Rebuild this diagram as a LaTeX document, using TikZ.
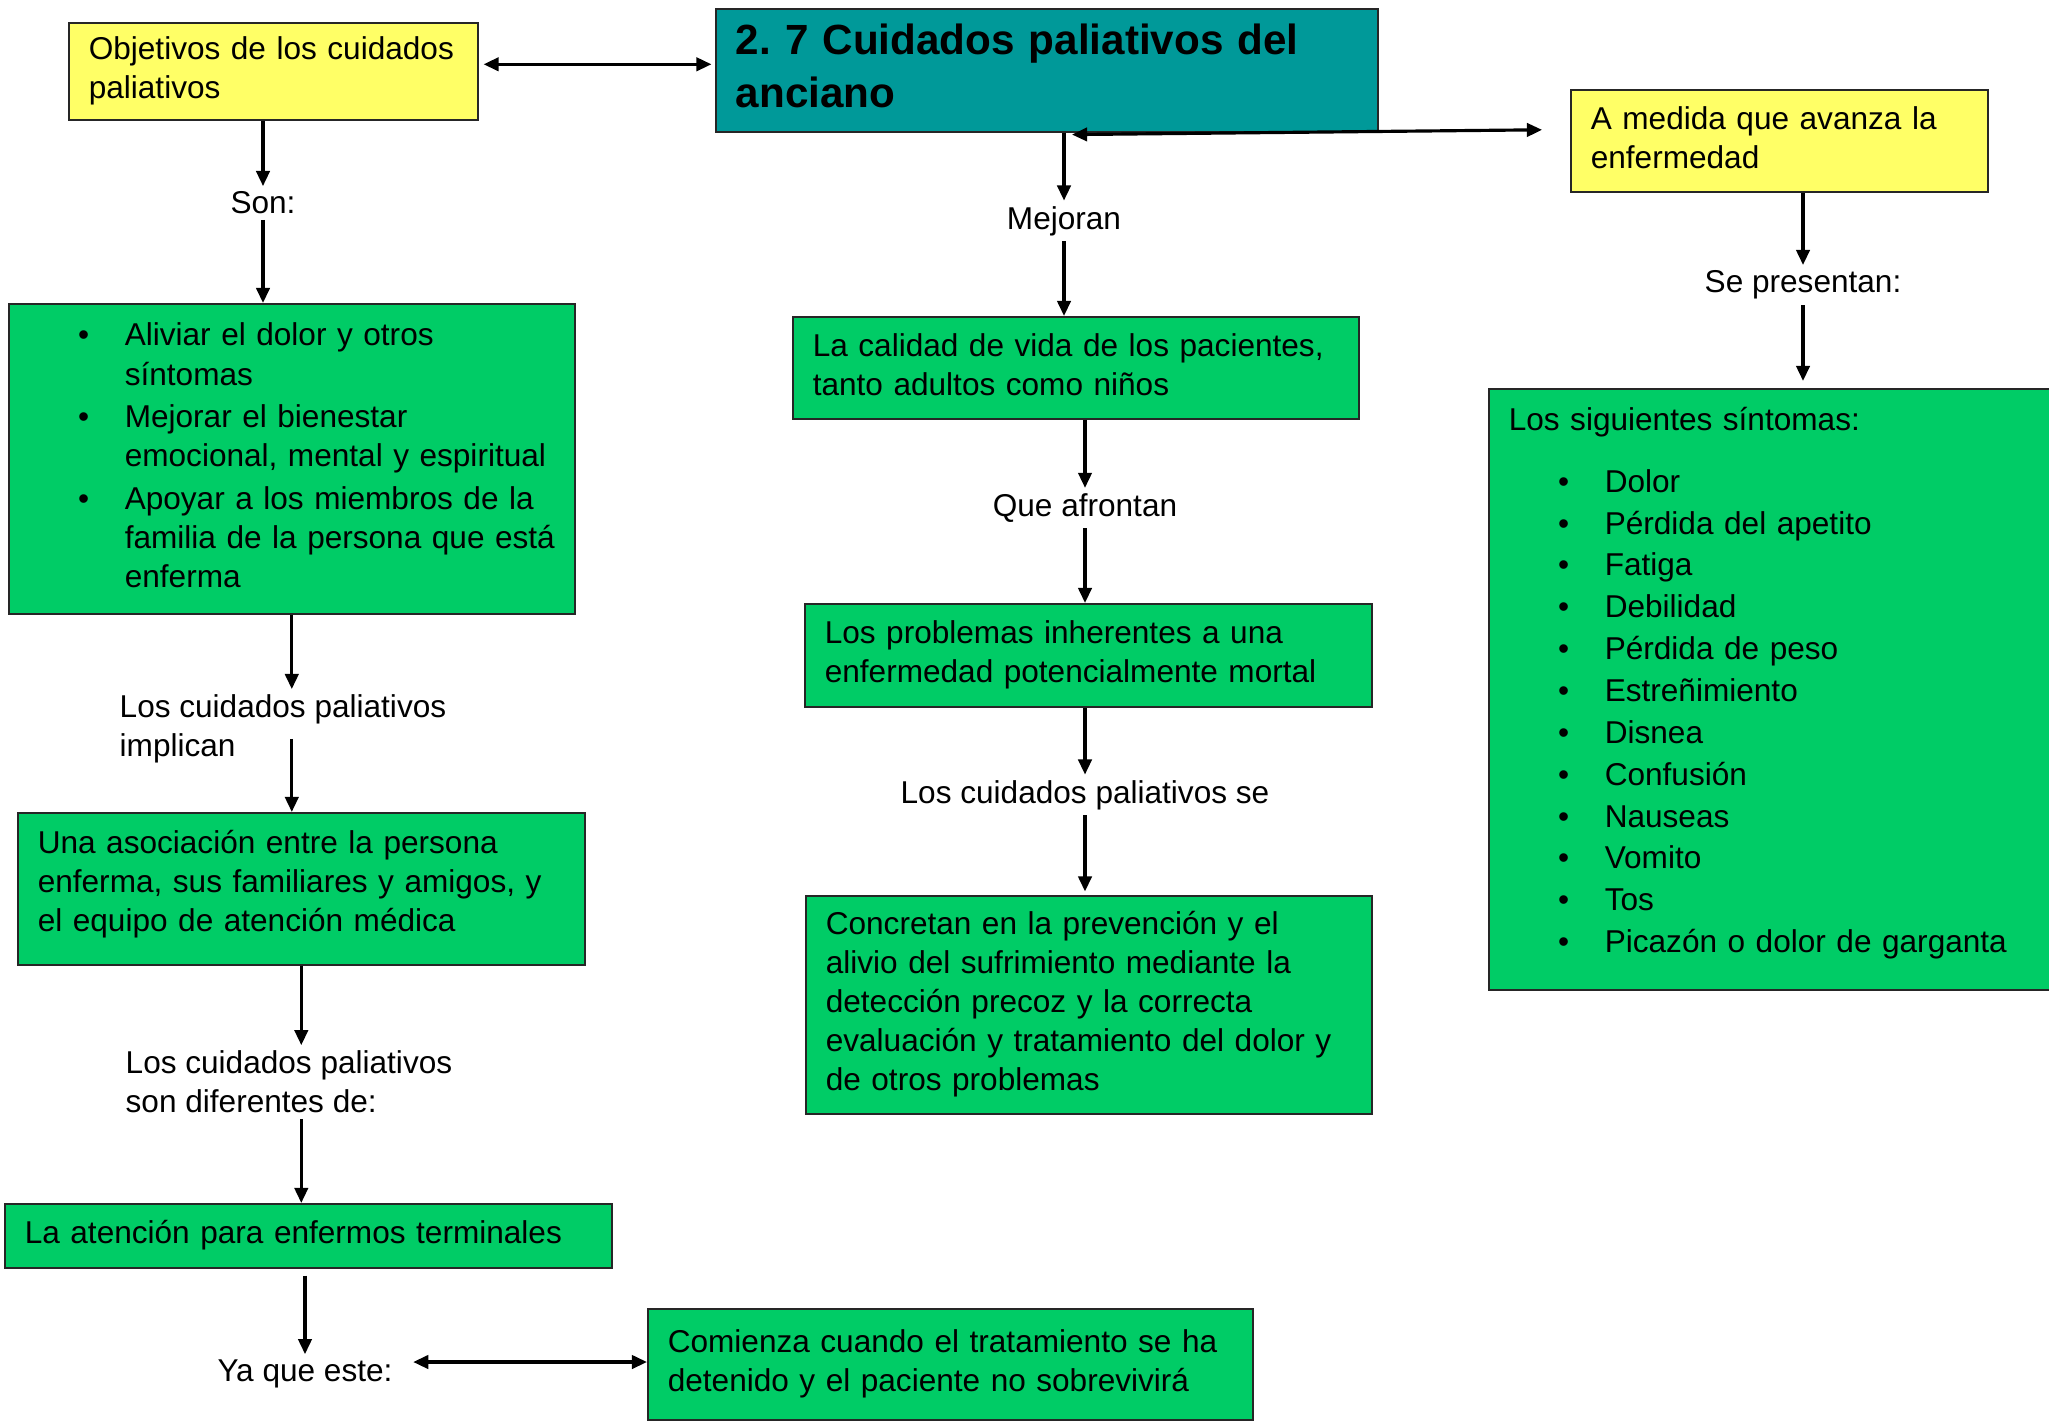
\documentclass[tikz,border=0pt]{standalone}
\usepackage{fontspec}
\setmainfont{Liberation Sans}
\usetikzlibrary{arrows.meta,calc}
\newlength\px \setlength\px{0.01cm}
\definecolor{ylw}{HTML}{FFFF66}
\definecolor{tealbox}{HTML}{009999}
\definecolor{grn}{HTML}{00CC66}
\newcommand\bl{\makebox[27.3pt][l]{\hspace*{14pt}\textbullet}}
\newcommand\bn{\makebox[27.3pt]{}}
\newcommand\mytopgap[1]{\rule{0pt}{\dimexpr 0.7\baselineskip+#1\relax}}
\begin{document}
\begin{tikzpicture}[x=0.01cm,y=-0.01cm,
  box/.style={draw=black!85, line width=0.45pt, rectangle, anchor=north west,
    inner xsep=20\px, inner ysep=2\px, align=left,
    font=\fontsize{8.98pt}{11.1pt}\selectfont},
  ybox/.style={box, fill=ylw},
  gbox/.style={box, fill=grn},
  tbox/.style={box, fill=tealbox, font=\fontsize{12pt}{15.2pt}\selectfont\bfseries},
  lbl/.style={inner xsep=4\px, inner ysep=5\px, align=left,
    font=\fontsize{8.98pt}{11.1pt}\selectfont},
  arr/.style={-{Triangle[length=4.3pt,width=3.8pt]}, line width=0.9pt},
  darr/.style={{Triangle[length=4.3pt,width=3.8pt]}-{Triangle[length=4.3pt,width=3.8pt]}, line width=0.9pt},
]
\useasboundingbox (0,0) rectangle (2049,1421);
\clip (0,0) rectangle (2049,1421);

% boxes
\node[ybox, minimum width=409\px, minimum height=97\px, text width=369\px] (obj) at (68,22)
  {\begin{tabular}{@{}l@{}}\mytopgap{2.4pt}Objetivos de los cuidados\\ paliativos\end{tabular}};
\node[tbox, minimum width=662\px, minimum height=123\px, text width=622\px] (title) at (715,8)
  {\begin{tabular}{@{}l@{}}\mytopgap{2pt}2.\ 7 Cuidados paliativos del\\ anciano\end{tabular}};
\node[ybox, minimum width=417\px, minimum height=102\px, text width=377\px] (amedida) at (1570,89)
  {\begin{tabular}{@{}l@{}}A medida que avanza la\\ enfermedad\end{tabular}};
\node[gbox, minimum width=566\px, minimum height=310\px, text width=526\px] (aliv) at (8,303)
  {\begin{tabular}{@{}l@{}l@{}}
   \bl & Aliviar el dolor y otros\\
   \bn & síntomas\\[1pt]
   \bl & Mejorar el bienestar\\
   \bn & emocional, mental y espiritual\\[1pt]
   \bl & Apoyar a los miembros de la\\
   \bn & familia de la persona que está\\
   \bn & enferma
   \end{tabular}};
\node[gbox, minimum width=567\px, minimum height=152\px, text width=527\px] (asoc) at (17,812)
  {\begin{tabular}{@{}l@{}}Una asociación entre la persona\\ enferma, sus familiares y amigos, y\\ el equipo de atención médica\\[2.2pt]\end{tabular}};
\node[gbox, minimum width=607\px, minimum height=64\px, text width=567\px] (aten) at (4,1203)
  {\begin{tabular}{@{}l@{}}La atención para enfermos terminales\end{tabular}};
\node[gbox, minimum width=605\px, minimum height=111\px, text width=565\px] (comienza) at (647,1308)
  {\begin{tabular}{@{}l@{}}Comienza cuando el tratamiento se ha\\ detenido y el paciente no sobrevivirá\end{tabular}};
\node[gbox, minimum width=566\px, minimum height=102\px, text width=526\px] (calidad) at (792,316)
  {\begin{tabular}{@{}l@{}}La calidad de vida de los pacientes,\\ tanto adultos como niños\end{tabular}};
\node[gbox, minimum width=567\px, minimum height=103\px, text width=527\px] (problemas) at (804,603)
  {\begin{tabular}{@{}l@{}}Los problemas inherentes a una\\ enfermedad potencialmente mortal\end{tabular}};
\node[gbox, minimum width=566\px, minimum height=218\px, text width=526\px] (concretan) at (805,895)
  {\begin{tabular}{@{}l@{}}\mytopgap{1.5pt}Concretan en la prevención y el\\ alivio del sufrimiento mediante la\\ detección precoz y la correcta\\ evaluación y tratamiento del dolor y\\ de otros problemas\end{tabular}};
\node[gbox, minimum width=620\px, minimum height=601\px, text width=580\px] (sintomas) at (1488,388)
  {\begin{tabular}{@{}l@{}l@{}}
   \multicolumn{2}{@{}l@{}}{Los siguientes síntomas:}\\[6.5pt]
   \bl & Dolor\\[0.8pt]
   \bl & Pérdida del apetito\\[0.8pt]
   \bl & Fatiga\\[0.8pt]
   \bl & Debilidad\\[0.8pt]
   \bl & Pérdida de peso\\[0.8pt]
   \bl & Estreñimiento\\[0.8pt]
   \bl & Disnea\\[0.8pt]
   \bl & Confusión\\[0.8pt]
   \bl & Nauseas\\[0.8pt]
   \bl & Vomito\\[0.8pt]
   \bl & Tos\\[0.8pt]
   \bl & Picazón o dolor de garganta\\[3.2pt]
   \end{tabular}};

% labels
\node[lbl] (son) at (263,203) {Son:};
\node[lbl] (mejoran) at (1064,221) {Mejoran};
\node[lbl] (afrontan) at (1085,508) {Que afrontan};
\node[lbl] (lcpse) at (1085,795) {Los cuidados paliativos se};
\node[lbl] (sepres) at (1803,285) {Se presentan:};
\node[lbl, anchor=west] (implican) at (115,729) {Los cuidados paliativos\\implican};
\node[lbl, anchor=west] (dif) at (121,1082) {Los cuidados paliativos\\son diferentes de:};
\node[lbl] (yaque) at (305,1374) {Ya que este:};

% connectors, left column
\coordinate (o1) at ($(obj.east)+(5,-7)$);
\draw[darr, shorten >=1pt] (o1) -- (o1 -| title.west);
\draw[arr] (obj.south -| son.north) -- (son.north);
\draw[arr] (son.south) -- (son.south |- aliv.north);
\draw[arr] (aliv.south) -- (aliv.south |- implican.north);
\coordinate (i1) at ($(implican.south -| aliv.south)+(0,-30)$);
\draw[arr] (i1) -- (i1 |- asoc.north);
\draw[arr] (asoc.south) -- (asoc.south |- dif.north);
\draw[arr] (dif.south -| asoc.south) -- (asoc.south |- aten.north);
\draw[arr, shorten <=2pt] (aten.south -| yaque.north) -- (yaque.north);
\coordinate (ya1) at ($(yaque.east)+(16,-12)$);
\draw[darr] (ya1) -- (ya1 -| comienza.west);

% middle column
\draw[arr] (title.south -| mejoran.north) -- (mejoran.north);
\draw[arr] (mejoran.south) -- (mejoran.south |- calidad.north);
\draw[arr] (calidad.south -| afrontan.north) -- (afrontan.north);
\draw[arr] (afrontan.south) -- (afrontan.south |- problemas.north);
\draw[arr] (problemas.south -| lcpse.north) -- (lcpse.north);
\draw[arr, shorten >=1pt] (lcpse.south) -- (lcpse.south |- concretan.north);

% right column
\coordinate (t1) at ($(title.south -| mejoran.north)+(8,2)$);
\coordinate (t2) at ($(amedida.west)+(-28,-11)$);
\draw[darr] (t1) -- (t2);
\draw[arr] (amedida.south -| sepres.north) -- (sepres.north);
\draw[arr, shorten >=2pt] (sepres.south) -- (sepres.south |- sintomas.north);
\end{tikzpicture}
\end{document}
